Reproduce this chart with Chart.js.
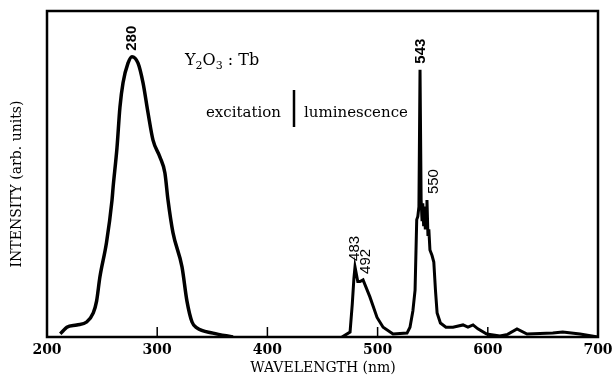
<!DOCTYPE html>
<html>
<head>
    <title>Y2O3:Tb excitation and luminescence</title>
    <script src="https://cdn.jsdelivr.net/npm/chart.js"></script>
    <style>
        html, body { margin: 0; padding: 0; background: #fff; }
        #chartContainer { width: 613px; height: 381px; }
    </style>
</head>
<body>
    <div id="chartContainer">
        <canvas id="spectrum" width="613" height="381"></canvas>
    </div>

    <script>
        // excitation band (nm, arb. intensity 0-100)
        const excitationNm = [212, 213.6, 218, 227, 236, 242, 245, 248, 254, 259, 260, 263.5, 266.2, 269, 273.5, 277.1,
                              282.6, 287.1, 291.7, 296.2, 302.5, 307, 309.8, 314.3, 322.5, 327, 331.6, 336, 350.6, 368.8];
        const excitationI  = [1, 1.5, 3, 3.7, 4.6, 7.4, 11, 18.4, 29, 42, 46, 58, 70.5, 78, 84, 86,
                              84, 78, 68.7, 60.4, 55.2, 50.3, 42, 32, 21.5, 11, 4.6, 2.8, 1.2, 0];

        // luminescence band
        const luminNm = [467.7, 475, 477, 478.5, 479.5, 482, 484, 486.8, 493, 499.5, 505, 514, 526.7, 529.4, 532, 534,
                         535.5, 536.5, 537.5, 538.5, 539.5, 540.3, 541, 541.8, 542.5, 543.3, 544, 544.8, 545.7, 546.5,
                         547.5, 549.4, 551, 552.5, 554, 557, 562, 568.4, 577.5,
                         582, 586.6, 591, 599, 611, 618, 626.5, 635.6, 659, 668, 683.7, 700];
        const luminI  = [0, 1.5, 10, 18, 21.5, 17, 17, 17.5, 12.3, 6, 3, 0.9, 1.2, 3, 8, 14.4,
                         36, 37, 40, 82, 42, 36, 41, 34, 40, 33, 38, 42, 31, 33,
                         26.7, 25, 23, 14.4, 7.4, 4.3, 3, 3, 3.7,
                         3, 3.7, 2.5, 0.9, 0.3, 0.8, 2.5, 0.9, 1.2, 1.5, 0.9, 0];

        // peak annotations
        const peakText = ['280', '483', '492', '543', '550'];
        const peakNm   = [277, 479.5, 489.5, 539.4, 551];
        const peakI    = [86, 21.5, 17.5, 82, 42];

        const tickValues = [200, 300, 400, 500, 600, 700];

        const toPoints = (xs, ys) => xs.map((x, i) => ({ x: x, y: ys[i] }));

        const serif = '"DejaVu Serif", "Liberation Serif", serif';
        const sans = '"Liberation Sans", Arial, sans-serif';

        // frame, inner ticks, labels and texts
        const decorations = {
            id: 'decorations',
            afterDraw(chart) {
                const ctx = chart.ctx;
                const area = chart.chartArea;
                const xs = chart.scales.x;
                const ys = chart.scales.y;
                ctx.save();
                ctx.strokeStyle = '#000';
                ctx.fillStyle = '#000';

                // frame
                ctx.lineWidth = 2.5;
                ctx.strokeRect(area.left, area.top, area.right - area.left, area.bottom - area.top);

                // inner ticks + tick labels
                ctx.lineWidth = 1.5;
                ctx.font = 'bold 14px ' + serif;
                ctx.textAlign = 'center';
                ctx.textBaseline = 'top';
                tickValues.forEach(v => {
                    const px = xs.getPixelForValue(v);
                    if (v > xs.min && v < xs.max) {
                        ctx.beginPath();
                        ctx.moveTo(px, area.bottom);
                        ctx.lineTo(px, area.bottom - 10);
                        ctx.stroke();
                    }
                    ctx.fillText(String(v), px, area.bottom + 6);
                });

                // axis titles
                ctx.font = '14px ' + serif;
                ctx.textBaseline = 'alphabetic';
                ctx.fillText('WAVELENGTH (nm)', 323, 372);
                ctx.save();
                ctx.translate(21, 184);
                ctx.rotate(-Math.PI / 2);
                ctx.fillText('INTENSITY (arb. units)', 0, 0);
                ctx.restore();

                // rotated peak labels
                ctx.textAlign = 'left';
                ctx.textBaseline = 'middle';
                peakText.forEach((t, i) => {
                    const px = xs.getPixelForValue(peakNm[i]);
                    const py = ys.getPixelForValue(peakI[i]);
                    ctx.font = (peakI[i] > 50 ? 'bold ' : '') + '15px ' + sans;
                    ctx.save();
                    ctx.translate(px, py - 6);
                    ctx.rotate(-Math.PI / 2);
                    ctx.fillText(t, 0, 0);
                    ctx.restore();
                });

                // compound name
                ctx.textAlign = 'left';
                ctx.textBaseline = 'alphabetic';
                ctx.font = '16px ' + serif;
                let x = 185;
                ctx.fillText('Y', x, 65); x += ctx.measureText('Y').width;
                ctx.font = '11px ' + serif;
                ctx.fillText('2', x, 69); x += ctx.measureText('2').width;
                ctx.font = '16px ' + serif;
                ctx.fillText('O', x, 65); x += ctx.measureText('O').width;
                ctx.font = '11px ' + serif;
                ctx.fillText('3', x, 69); x += ctx.measureText('3').width;
                ctx.font = '16px ' + serif;
                ctx.fillText(' : Tb', x, 65);

                // excitation | luminescence
                ctx.font = '15px ' + serif;
                ctx.textAlign = 'right';
                ctx.fillText('excitation', 281, 117);
                ctx.textAlign = 'left';
                ctx.fillText('luminescence', 304, 117);
                ctx.lineWidth = 2.5;
                ctx.beginPath();
                ctx.moveTo(294, 90);
                ctx.lineTo(294, 127);
                ctx.stroke();

                ctx.restore();
            }
        };

        const config = {
            type: 'line',
            data: {
                datasets: [
                    {
                        data: toPoints(excitationNm, excitationI),
                        borderColor: '#000',
                        borderWidth: 3.5,
                        pointRadius: 0,
                        cubicInterpolationMode: 'monotone',
                        fill: false
                    },
                    {
                        data: toPoints(luminNm, luminI),
                        borderColor: '#000',
                        borderWidth: 3,
                        pointRadius: 0,
                        tension: 0,
                        fill: false
                    }
                ]
            },
            options: {
                responsive: false,
                animation: false,
                layout: { padding: { left: 47, right: 15, top: 11, bottom: 44 } },
                plugins: {
                    legend: { display: false },
                    tooltip: { enabled: false }
                },
                scales: {
                    x: { type: 'linear', min: 200, max: 700, display: false },
                    y: { min: 0, max: 100, display: false }
                }
            },
            plugins: [decorations]
        };

        const myChart = new Chart(document.getElementById('spectrum').getContext('2d'), config);
    </script>
</body>
</html>
